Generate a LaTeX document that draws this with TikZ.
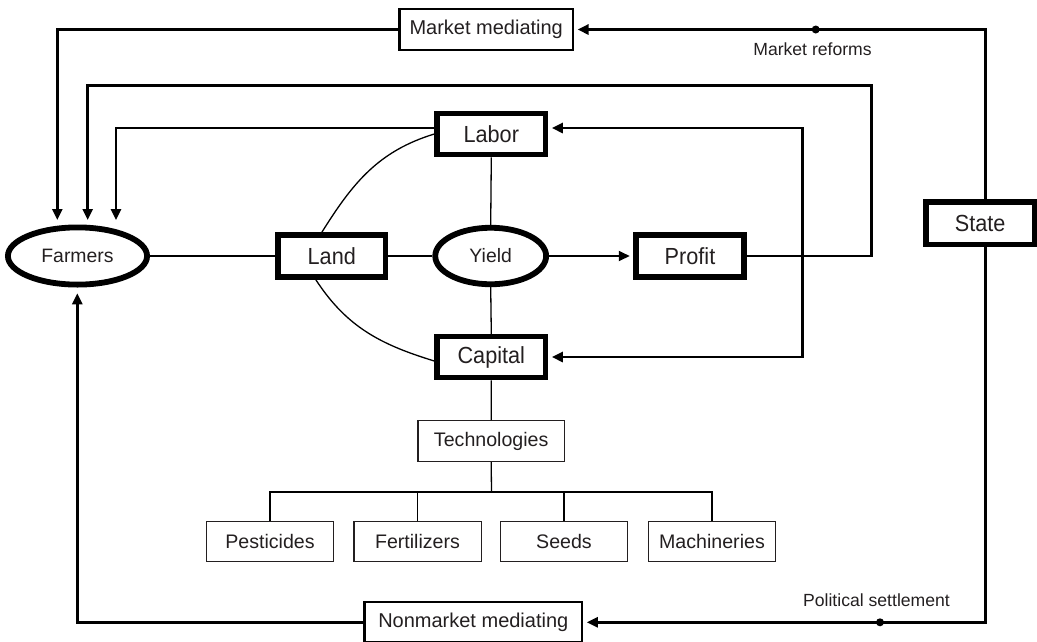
\documentclass[tikz,border=0pt]{standalone}
\usepackage{fontspec}
\setmainfont{Liberation Sans}
\newfontfamily\narrowsans{Liberation Sans}[FakeStretch=0.93]
\usetikzlibrary{arrows.meta,shapes.geometric,calc}
\definecolor{ink}{HTML}{231F20}
\begin{document}
\begin{tikzpicture}[x=1pt,y=-1pt,
  bigbox/.style={draw, line width=5.5pt, rectangle, minimum width=108pt, minimum height=41pt, inner sep=0pt, text=ink, font=\narrowsans\fontsize{23.3}{27}\selectfont},
  bigell/.style={draw, line width=5.8pt, ellipse, inner sep=0pt, text=ink, font=\fontsize{19.4}{23}\selectfont},
  medbox/.style={draw, line width=2.4pt, rectangle, inner sep=0pt, text=ink, font=\fontsize{20}{24}\selectfont},
  leaf/.style={draw=ink, line width=1.3pt, rectangle, minimum width=127.3pt, minimum height=40pt, inner sep=0pt, text=ink, font=\fontsize{19.6}{23}\selectfont},
  conn/.style={line width=2.6pt},
  thinline/.style={line width=1.3pt},
  midline/.style={line width=1.8pt},
  tipn/.style={-{Triangle[length=11pt,width=10pt]}},
  tips/.style={-{Triangle[length=11pt,width=10pt]}, shorten >=3.5pt},
  lbl/.style={font=\fontsize{17.6}{21}\selectfont, inner sep=0pt, text=ink},
  dot/.style={fill, circle, inner sep=0pt, minimum size=8pt}
]
\useasboundingbox (0,0) rectangle (1037,641);
\clip (0,0) rectangle (1037,641);

% main nodes
\node[medbox, minimum width=173.3pt, minimum height=40.6pt] (mm) at (486.2,29.5) {Market mediating};
\node[medbox, minimum width=217.6pt, minimum height=40.2pt] (nm) at (473.3,622.3) {\raisebox{1.5pt}{Nonmarket mediating}};
\node[bigbox, minimum width=108.5pt] (labor) at (491.3,134) {Labor};
\node[bigbox, minimum width=108.5pt] (capital) at (491.3,357) {Capital};
\node[bigbox, minimum width=107.5pt, minimum height=41.8pt] (land) at (331.8,256) {Land};
\node[bigbox, minimum width=108pt, minimum height=41.8pt] (profit) at (690,256) {Profit};
\node[bigbox, minimum width=108.2pt, minimum height=42.5pt] (state) at (980.2,223.3) {State};
\node[bigell, minimum width=139.2pt, minimum height=57.2pt] (farmers) at (77.5,256) {Farmers};
\node[bigell, minimum width=110.9pt, minimum height=56.5pt] (yield) at (490.7,256) {Yield};

% technologies tree
\node[leaf, minimum width=146.4pt, minimum height=40.7pt] (tech) at (491.2,441) {Technologies};
\node[leaf] (pest) at (270,541.7) {Pesticides};
\node[leaf] (fert) at (417.5,541.7) {Fertilizers};
\node[leaf] (seeds) at (564,541.7) {Seeds};
\node[leaf] (mach) at (712,541.7) {Machineries};
\coordinate (bus) at (491.5,492.3);
\draw[thinline] (tech.south) -- (bus);
\draw[line width=1.9pt] (pest.north) |- (bus) -| (mach.north);
\draw[thinline] (fert.north) -- (fert.north |- bus);
\draw[thinline] (seeds.north) -- (seeds.north |- bus);

% central links
\draw[midline] (farmers.east) -- (land.west);
\draw[midline] (land.east) -- (yield.west);
\draw[midline, tips] (yield.east) -- (profit.west);
\draw[thinline] (labor.south) -- (yield.north);
\draw[thinline] (yield.south) -- (capital.north);
\draw[thinline] (capital.south) -- (tech.north);
\draw[thinline] ([xshift=-10pt]land.north) to[out=58,in=197] (labor.west);
\draw[thinline] ([xshift=-16pt]land.south) to[out=-57,in=163] ([yshift=-4pt]capital.west);

% feedback to farmers
\coordinate (f1) at (57.3,220);
\coordinate (f2) at (87.7,220);
\coordinate (f3) at (116,220);
\coordinate (f4) at (77.3,293.3);
\coordinate (pc) at (871.7,85.7);
\draw[conn, tipn] (mm.west) -| (f1);
\draw[conn, tipn] (profit.east) -| (pc) -| (f2);
\draw[conn, tipn] ([yshift=6pt]labor.west) -| (f3);
\draw[conn, tipn] (nm.west) -| (f4);

% profit reinvestment bracket
\coordinate (lc) at (802.7,128);
\coordinate (cc) at (802.7,357);
\draw[conn, {Triangle[length=11pt,width=10pt]}-{Triangle[length=11pt,width=10pt]}, shorten <=3.5pt, shorten >=3.5pt]
  ([yshift=6pt]labor.east) -- (lc) -- (cc) -- (capital.east);

% state
\draw[conn, tips] ([xshift=5.5pt]state.north) |- (mm.east);
\draw[conn, tips] ([xshift=5.5pt]state.south) |- (nm.east);
\node[dot] (mrdot) at (815.7,29.5) {};
\node[lbl] (mrlbl) at (812.5,49) {Market reforms};
\node[dot] (psdot) at (880,622.3) {};
\node[lbl] (pslbl) at (876.5,600.5) {Political settlement};
\end{tikzpicture}
\end{document}
